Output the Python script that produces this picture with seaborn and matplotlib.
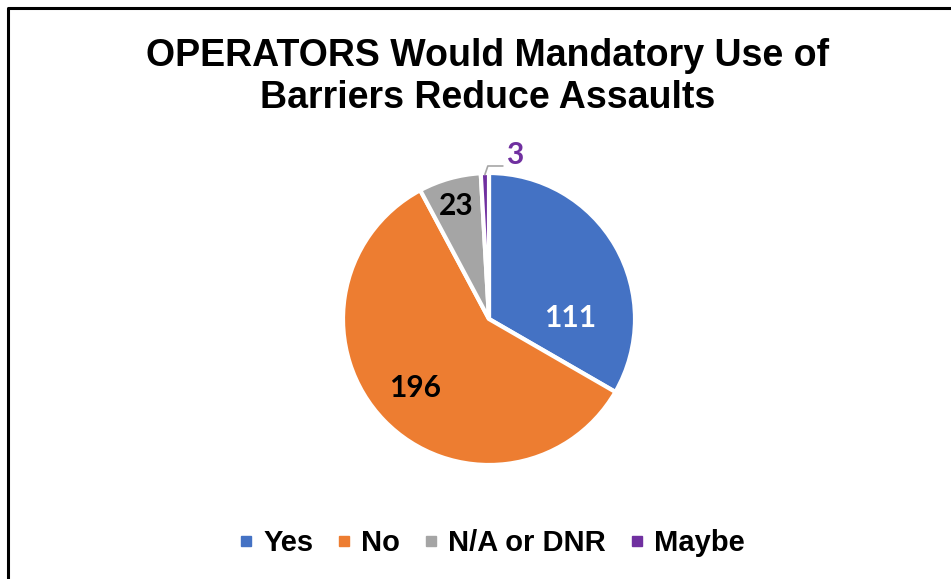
import matplotlib
matplotlib.use("Agg")
import matplotlib.pyplot as plt
from matplotlib.lines import Line2D
import numpy as np
import seaborn as sns

sns.set_theme(style="white")
plt.rcParams["font.family"] = ["Liberation Sans", "DejaVu Sans"]
plt.rcParams["text.color"] = "black"

title = "OPERATORS Would Mandatory Use of\nBarriers Reduce Assaults"
categories = ["Yes", "No", "N/A or DNR", "Maybe"]
counts = [111, 196, 23, 3]
colors = ["#4472C4", "#ED7D31", "#A5A5A5", "#7030A0"]
label_colors = ["white", "black", "black", "#7030A0"]

# label placement (radius, angle in degrees) relative to the pie
label_pos = [(0.555, 1), (0.69, 223), (0.806, 106), (1.14, 81)]

fig = plt.figure(figsize=(9.51, 5.79), dpi=100)
ax = fig.add_axes([343 / 951, 114 / 579, 292 / 951, 292 / 579])

wedges, _ = ax.pie(
    counts,
    colors=colors,
    startangle=90,
    counterclock=False,
    wedgeprops=dict(edgecolor="white", linewidth=3),
)
ax.set_xlim(-1, 1)
ax.set_ylim(-1, 1)
ax.set_aspect("equal")
ax.axis("off")

for val, col, (r, a) in zip(counts, label_colors, label_pos):
    t = np.deg2rad(a)
    ax.text(r * np.cos(t), r * np.sin(t), str(val), ha="center", va="center",
            fontsize=21.5, fontweight="bold", color=col, family="Lato")

# leader line for the tiny "Maybe" slice
w = wedges[3]
mid = np.deg2rad((w.theta1 + w.theta2) / 2)
x0, y0 = 0.99 * np.cos(mid), 0.99 * np.sin(mid)
ax.plot([x0, x0 + 0.02, 0.095], [y0, 1.048, 1.048], color="#A6A6A6",
        lw=1.2, clip_on=False)

fig.text(0.513, 1 - 77 / 579, title, ha="center", va="center",
         fontsize=27, fontweight="bold", color="black", linespacing=1.25)

handles = [Line2D([0], [0], marker="s", linestyle="", markersize=7.5,
                  markerfacecolor=c, markeredgecolor=c) for c in colors]
leg = fig.legend(handles, categories, loc="center", bbox_to_anchor=(0.517, 36 / 579),
                 ncol=4, frameon=False, handlelength=0.5, handletextpad=0.35,
                 columnspacing=0.8, prop=dict(size=21, weight="bold"))
for txt in leg.get_texts():
    txt.set_color("black")

fig.add_artist(Line2D([8 / 951, 8 / 951, 1], [0, 1 - 8 / 579, 1 - 8 / 579],
                      color="black", lw=2.2, transform=fig.transFigure))

fig.savefig("out.png", dpi=100, facecolor="white")
